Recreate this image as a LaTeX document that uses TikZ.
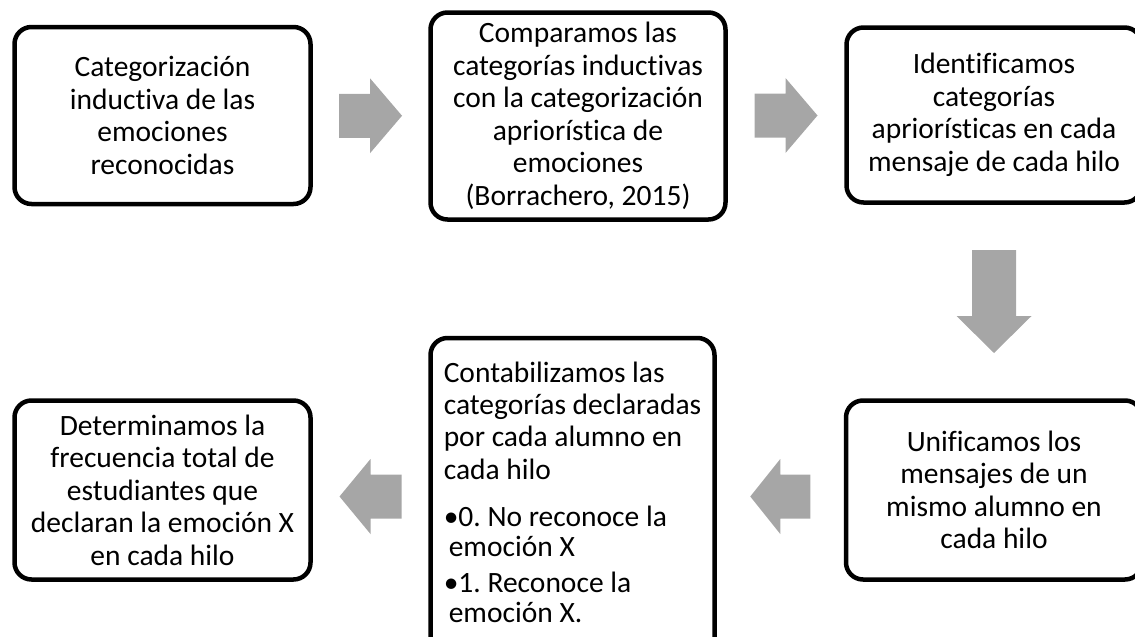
\documentclass[tikz,border=0pt]{standalone}
\usepackage{fontspec}
\setmainfont{Carlito}[Ligatures=NoCommon]
\frenchspacing
\usetikzlibrary{calc}
\definecolor{arrowgray}{RGB}{166,166,166}
\tikzset{paso/.style={draw=black, line width=4.5pt, rounded corners=17pt, inner sep=0pt, align=center, font=\fontsize{29.5}{32.5}\selectfont}}
\def\blockarrow[#1](#2)(#3:#4){\fill[arrowgray,shift={(#2)},rotate=#1] (-#3/2,-22) -- (#3/2-#4,-22) -- (#3/2-#4,-37.5) -- (#3/2,0) -- (#3/2-#4,37.5) -- (#3/2-#4,22) -- (-#3/2,22) -- cycle;}

\begin{document}
\begin{tikzpicture}[x=1pt,y=-1pt]
			%%%%% START %%%%%
			
			\clip (0,0) rectangle (1135,637);
			
			\node[paso, minimum width=296pt, minimum height=177pt] (cat) at (162.5,115.5) {Categorización\\inductiva de las\\emociones\\reconocidas};
			\node[paso, minimum width=295pt, minimum height=207pt] (comp) at (578,116) {Comparamos las\\categorías inductivas\\con la categorización\\apriorística de\\emociones\\(Borrachero, 2015)};
			\node[paso, minimum width=295pt, minimum height=175pt] (ident) at (994,115) {Identificamos\\categorías\\apriorísticas en cada\\mensaje de cada hilo};
			
			\node[paso, minimum width=296pt, minimum height=179pt] (unif) at (994,490) {Unificamos los\\mensajes de un\\mismo alumno en\\cada hilo};
			\node[paso, align=left, minimum width=284pt, minimum height=330pt] (cont) at (572.5,503) {Contabilizamos las\\categorías declaradas\\por cada alumno en\\cada hilo\\[14.5pt]•0. No reconoce la\\[-2.5pt]\hspace*{5pt}emoción X\\[3.5pt]•1. Reconoce la\\[-2.5pt]\hspace*{5pt}emoción X.\rule[-22pt]{0pt}{22pt}};
			\node[paso, minimum width=296pt, minimum height=179pt] (det) at (162.5,490) {Determinamos la\\frecuencia total de\\estudiantes que\\declaran la emoción X\\en cada hilo};
			
			\coordinate (a12) at ($(cat.east)!0.5!(comp.west)$);
			\blockarrow[0](a12)(63:32)
			\coordinate (a23) at ($(comp.east)!0.5!(ident.west)$);
			\blockarrow[0](a23)(63:32)
			\coordinate (a34) at ($(ident.south)!0.5!(unif.north)$);
			\blockarrow[-90](a34)(103:37)
			\coordinate (a45) at ($(cont.east)!0.5!(unif.west)$);
			\blockarrow[180](a45)(60:30)
			\coordinate (a56) at ($(det.east)!0.5!(cont.west)$);
			\blockarrow[180](a56)(62:31)
			
			%%%%% END %%%%%
\end{tikzpicture}
\end{document}
